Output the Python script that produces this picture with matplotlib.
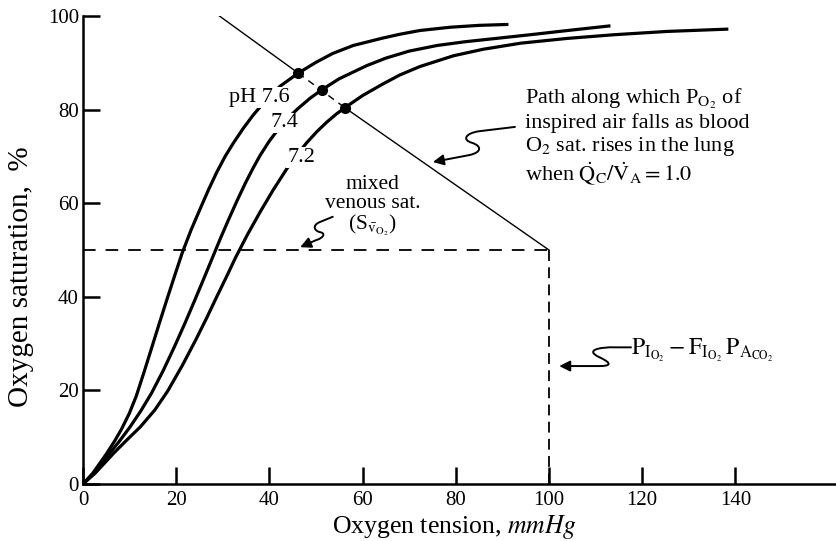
import matplotlib
matplotlib.use("Agg")
import matplotlib.pyplot as plt
from matplotlib.path import Path
from matplotlib.patches import FancyArrowPatch

plt.rcParams['font.family'] = ['Liberation Serif', 'DejaVu Serif']
plt.rcParams['mathtext.fontset'] = 'stix'

# dissociation curves: PO2 (mmHg) vs saturation (%)
ph76_x = [0, 2.1, 5.0, 6.8, 8.2, 9.9, 11.4, 13.1, 14.8, 16.4, 18.0, 19.7, 21.3, 23.2, 25.1, 26.9,
          28.7, 30.5, 32.3, 34.4, 36.5, 39.4, 42.3, 46.2, 50.0, 53.6, 58.0, 64.4, 68.0, 72.3, 78.8, 85.0, 91.3]
ph76_y = [0, 2.3, 6.4, 9.2, 11.6, 15.0, 18.7, 23.9, 29.3, 34.4, 39.4, 44.6, 49.4, 54.3, 58.7, 62.8,
          66.6, 70.0, 72.9, 76.0, 78.8, 82.2, 85.0, 87.8, 90.1, 92.0, 93.7, 95.3, 96.1, 96.9, 97.6, 98.0, 98.2]

ph74_x = [0, 2.5, 5.6, 7.7, 10.1, 12.4, 14.7, 17.2, 19.7, 21.9, 24.0, 26.1, 27.8, 29.5, 31.2, 33.0,
          34.8, 36.5, 38.0, 40.0, 41.9, 44.0, 46.0, 48.7, 51.2, 55.0, 60.9, 65.0, 70.0, 76.0, 82.0, 89.5,
          96.0, 104.0, 113.2]
ph74_y = [0, 2.5, 6.4, 9.0, 12.2, 15.6, 19.4, 24.2, 29.5, 34.4, 39.3, 44.3, 48.4, 52.5, 56.4, 60.4,
          64.2, 67.5, 70.2, 73.3, 75.8, 78.2, 80.1, 82.4, 84.2, 86.6, 89.4, 91.0, 92.5, 93.7, 94.5, 95.3,
          96.0, 96.9, 97.9]

ph72_x = [0, 2.6, 6.6, 9.2, 12.3, 15.4, 18.2, 21.3, 24.2, 26.5, 28.7, 30.9, 32.7, 35.3, 38.0, 40.8,
          43.7, 45.8, 48.0, 50.2, 52.3, 54.3, 56.2, 60.0, 64.4, 68.0, 72.3, 79.5, 85.9, 94.0, 103.8,
          114.0, 125.3, 138.5]
ph72_y = [0, 2.3, 6.6, 9.2, 12.2, 15.8, 19.9, 25.3, 30.8, 35.4, 40.0, 44.5, 48.3, 53.3, 58.1, 62.8,
          67.3, 70.2, 72.9, 75.3, 77.3, 79.0, 80.4, 83.0, 85.5, 87.4, 89.2, 91.5, 92.9, 94.2, 95.2,
          96.0, 96.7, 97.2]

ph_labels = ['pH 7.6', '7.4', '7.2']
label_x = [37.8, 43.3, 46.8]
label_y = [82.6, 77.2, 69.8]

# points where the inspired-air path crosses each curve
dot_x = [46.2, 51.2, 56.2]
dot_y = [87.8, 84.2, 80.4]

# path of inspired PO2 (start, end)
path_x = [29.0, 100.0]
path_y = [100.2, 50.0]

venous_sat = 50.0
pio2_end = 100.0

xticks = [0, 20, 40, 60, 80, 100, 120, 140]
yticks = [0, 20, 40, 60, 80, 100]

fig = plt.figure(figsize=(8.36, 5.41), dpi=100)
ax = fig.add_axes([83/836, 57/541, 753/836, 468/541])

lw_curve = 2.3
for xs, ys in [(ph76_x, ph76_y), (ph74_x, ph74_y), (ph72_x, ph72_y)]:
    ax.plot(xs, ys, color='black', lw=lw_curve, solid_capstyle='butt',
            solid_joinstyle='round', zorder=3)

# path line: solid outside the curves, dashed between the dots
ax.plot([path_x[0], dot_x[0]], [path_y[0], dot_y[0]], color='black', lw=1.0, zorder=2)
ax.plot([dot_x[0], dot_x[-1]], [dot_y[0], dot_y[-1]], color='black', lw=1.0,
        linestyle=(0, (5, 4)), zorder=2)
ax.plot([dot_x[-1], path_x[1]], [dot_y[-1], path_y[1]], color='black', lw=1.0, zorder=2)
ax.plot(dot_x, dot_y, 'o', color='black', ms=7, zorder=5)

# mixed venous saturation and PIO2 dashed lines
ax.plot([0, pio2_end], [venous_sat, venous_sat], color='black', lw=1.3,
        linestyle=(0, (7, 5.5)), zorder=1)
ax.plot([pio2_end, pio2_end], [0, venous_sat], color='black', lw=1.3,
        linestyle=(0, (6, 3.5)), zorder=1)

for lab, lx, ly in zip(ph_labels, label_x, label_y):
    ax.text(lx, ly, lab, fontsize=16, ha='center', va='center', zorder=4,
            bbox=dict(facecolor='white', edgecolor='none', pad=0.5))


def squiggle(pts):
    codes = [Path.MOVETO, Path.LINETO,
             Path.CURVE4, Path.CURVE4, Path.CURVE4,
             Path.CURVE4, Path.CURVE4, Path.CURVE4,
             Path.LINETO]
    arr = FancyArrowPatch(path=Path(pts, codes), arrowstyle='-|>',
                          mutation_scale=16, lw=1.4, color='black', zorder=4)
    ax.add_patch(arr)


squiggle([(92.7, 76.3), (85.2, 75.4), (82.0, 75.0), (81.3, 73.5), (83.5, 72.9),
          (85.6, 72.2), (85.6, 70.9), (83.0, 70.3), (75.1, 68.8)])
squiggle([(53.6, 57.1), (50.9, 56.0), (49.1, 55.3), (49.6, 54.1), (50.9, 53.8),
          (52.1, 53.6), (51.7, 52.6), (50.0, 52.1), (46.6, 50.6)])
squiggle([(117.6, 29.2), (114.4, 29.2), (110.8, 29.3), (107.6, 28.6), (110.8, 27.1),
          (114.0, 25.6), (112.9, 25.2), (110.8, 25.2), (102.2, 25.2)])

ax.text(94.8, 84.8,
        'Path along which P$_{\\mathrm{O_2}}$ of\n'
        'inspired air falls as blood\n'
        'O$_2$ sat. rises in the lung\n'
        'when $\\dot{\\mathrm{Q}}_\\mathrm{C}/\\dot{\\mathrm{V}}_\\mathrm{A} = 1.0$',
        fontsize=16, ha='left', va='top', linespacing=1.12)
ax.text(62.2, 59.3, 'mixed\nvenous sat.\n(S$_{\\bar{\\mathrm{v}}_{\\mathrm{O_2}}}$)',
        fontsize=15.5, ha='center', va='center', linespacing=1.0)
ax.text(117.6, 28.6,
        '$\\mathrm{P_{I_{O_2}} - F_{I_{O_2}}\\,P_{A_{CO_2}}}$',
        fontsize=17, ha='left', va='center')

ax.set_xlim(0, 161.6)
ax.set_ylim(0, 100)
ax.set_xticks(xticks)
ax.set_yticks(yticks)
ax.tick_params(direction='in', length=12, width=1.8, labelsize=15, pad=3)
ax.tick_params(axis='x', pad=5)
for side in ['top', 'right']:
    ax.spines[side].set_visible(False)
for side in ['left', 'bottom']:
    ax.spines[side].set_linewidth(1.8)

fig.text(455/836, 1 - 527/541, 'Oxygen tension, $\\mathit{mmHg}$', fontsize=18.5,
         ha='center', va='center')
fig.text(21/836, 1 - 277/541, 'Oxygen saturation,  %', fontsize=21, rotation=90,
         ha='center', va='center')

fig.savefig('out.png', dpi=100)
